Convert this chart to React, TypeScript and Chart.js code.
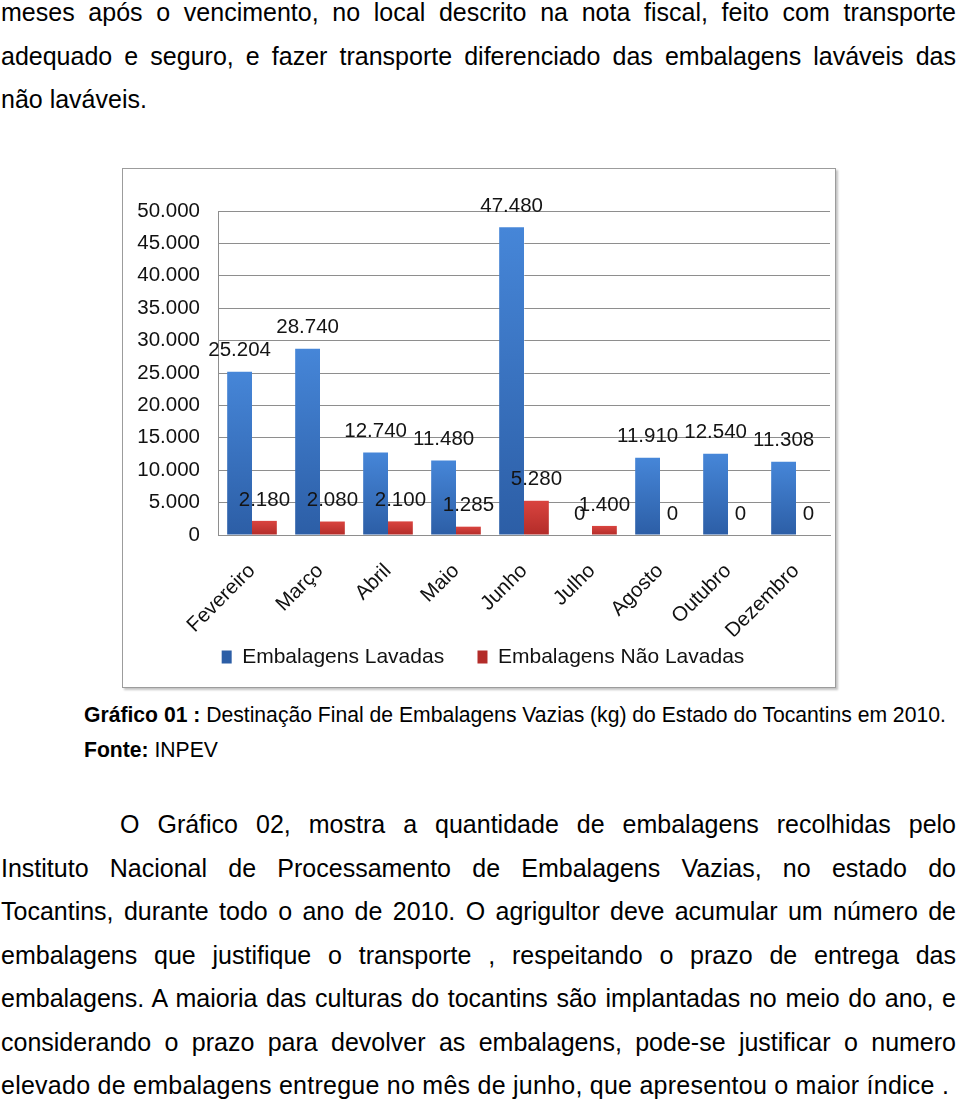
import React, { useEffect, useRef } from "react";
import { Chart, registerables } from "chart.js";

Chart.register(...registerables);

const months = ["Fevereiro", "Março", "Abril", "Maio", "Junho", "Julho", "Agosto", "Outubro", "Dezembro"];
const lavadas = [25204, 28740, 12740, 11480, 47480, 0, 11910, 12540, 11308];
const naoLavadas = [2180, 2080, 2100, 1285, 5280, 1400, 0, 0, 0];
const seriesNames = ["Embalagens Lavadas", "Embalagens Não Lavadas"];
const yMin = 0;
const yMax = 50000;
const yStep = 5000;

const topLines = [
  "meses após o vencimento, no local descrito na nota fiscal, feito com transporte",
  "adequado e seguro, e fazer transporte diferenciado das embalagens laváveis das",
  "não laváveis.",
];
const paraLines = [
  "O Gráfico 02, mostra a quantidade de embalagens recolhidas pelo",
  "Instituto Nacional de Processamento de Embalagens Vazias, no estado do",
  "Tocantins, durante todo o ano de 2010. O agrigultor deve acumular um número de",
  "embalagens que justifique o transporte , respeitando o prazo de entrega das",
  "embalagens. A maioria das culturas do tocantins são implantadas no meio do ano, e",
  "considerando o prazo para devolver as embalagens, pode-se justificar o numero",
  "elevado de embalagens entregue no mês de junho, que apresentou o maior índice .",
];
const captionBold = "Gráfico 01 :";
const captionText = " Destinação Final de Embalagens Vazias (kg) do Estado do Tocantins em 2010.";
const sourceBold = "Fonte:";
const sourceText = " INPEV";

const FONT = '"Liberation Sans", Arial, Helvetica, sans-serif';

const fmt = (v: number) => String(v).replace(/\B(?=(\d{3})+(?!\d))/g, ".");

function barGradient(top: string, bottom: string, fallback: string) {
  return (c: any) => {
    const chart = c.chart;
    const y = chart.scales && chart.scales.y;
    if (!chart.chartArea || !y || c.raw == null || c.type !== "data") return fallback;
    const t = y.getPixelForValue(c.raw);
    const b = y.getPixelForValue(0);
    if (!isFinite(t) || !isFinite(b) || b - t < 1) return fallback;
    const g = chart.ctx.createLinearGradient(0, t, 0, b);
    g.addColorStop(0, top);
    g.addColorStop(1, bottom);
    return g;
  };
}

const valueLabels = {
  id: "valueLabels",
  afterDatasetsDraw(chart: any) {
    const ctx = chart.ctx;
    ctx.save();
    ctx.font = `20.5px ${FONT}`;
    ctx.fillStyle = "#141414";
    ctx.textAlign = "center";
    ctx.textBaseline = "middle";
    chart.data.datasets.forEach((ds: any, i: number) => {
      const meta = chart.getDatasetMeta(i);
      meta.data.forEach((el: any, j: number) => {
        ctx.fillText(fmt(ds.data[j]), el.x, el.y - 21);
      });
    });
    ctx.restore();
  },
};

function TextLine(props: {
  baseline: number;
  left: number;
  width: number;
  size: number;
  justify: boolean;
  spacing?: number;
  children: React.ReactNode;
}) {
  const { baseline, left, width, size, justify, spacing, children } = props;
  const lh = Math.round(size * 1.2);
  const top = baseline - ((lh - 1.117 * size) / 2 + 0.905 * size);
  return (
    <div
      style={{
        position: "absolute",
        left,
        top,
        width,
        fontSize: size,
        lineHeight: `${lh}px`,
        height: lh,
        letterSpacing: spacing ? `${spacing}px` : undefined,
        textAlign: justify ? "justify" : "left",
        textAlignLast: justify ? "justify" : "left",
        whiteSpace: justify ? "normal" : "nowrap",
        color: "#000",
      }}
    >
      {children}
    </div>
  );
}

function BarChart() {
  const ref = useRef<HTMLCanvasElement | null>(null);
  useEffect(() => {
    if (!ref.current) return;
    const grid = "#8e8e8e";
    const chart = new Chart(ref.current, {
      type: "bar",
      data: {
        labels: months,
        datasets: [
          {
            label: seriesNames[0],
            data: lavadas,
            backgroundColor: barGradient("#4686d8", "#2c5ea6", "#3a72c2"),
            borderWidth: 0,
            barPercentage: 1,
            categoryPercentage: 0.73,
          },
          {
            label: seriesNames[1],
            data: naoLavadas,
            backgroundColor: barGradient("#d9443f", "#b32c29", "#c8393a"),
            borderWidth: 0,
            barPercentage: 1,
            categoryPercentage: 0.73,
          },
        ],
      },
      options: {
        animation: false,
        responsive: false,
        maintainAspectRatio: false,
        layout: { padding: { top: 42, right: 5, bottom: 9.5, left: 13 } },
        plugins: {
          tooltip: { enabled: false },
          legend: {
            position: "bottom",
            labels: {
              boxWidth: 10,
              boxHeight: 13,
              padding: 10,
              color: "#111",
              font: { family: FONT, size: 21 },
              generateLabels: (ch: any) => {
                const items = Chart.defaults.plugins.legend.labels.generateLabels(ch);
                if (items.length > 0) items[0].text = items[0].text + "    ";
                return items;
              },
            },
          },
        },
        scales: {
          x: {
            grid: { display: false },
            border: { display: true, color: grid },
            ticks: {
              autoSkip: false,
              maxRotation: 45,
              minRotation: 45,
              padding: 16,
              color: "#111",
              font: { family: FONT, size: 20.5 },
            },
            afterFit: (s: any) => {
              s.height = 101.5;
            },
          },
          y: {
            min: yMin,
            max: yMax,
            grid: { color: grid, lineWidth: 1, drawTicks: false },
            border: { display: true, color: grid },
            ticks: {
              stepSize: yStep,
              padding: 18,
              color: "#111",
              font: { family: FONT, size: 20.5 },
              callback: (v: any) => fmt(Number(v)),
            },
            afterFit: (s: any) => {
              s.width = 82;
            },
          },
        },
      },
      plugins: [valueLabels],
    });
    return () => chart.destroy();
  }, []);
  return <canvas ref={ref} width={712} height={518} style={{ display: "block", width: 712, height: 518 }} />;
}

export default function App() {
  const bodyW = 955;
  return (
    <div
      style={{
        position: "absolute",
        left: 0,
        top: 0,
        width: 960,
        height: 1102,
        overflow: "hidden",
        background: "#fff",
        fontFamily: FONT,
      }}
    >
      <TextLine baseline={21} left={1} width={bodyW} size={25} justify>
        {topLines[0]}
      </TextLine>
      <TextLine baseline={64.5} left={1} width={bodyW} size={25} justify>
        {topLines[1]}
      </TextLine>
      <TextLine baseline={108} left={1} width={bodyW} size={25} justify={false}>
        {topLines[2]}
      </TextLine>

      <div
        style={{
          position: "absolute",
          left: 122,
          top: 168,
          width: 712,
          height: 518,
          border: "1px solid #9c9c9c",
          boxShadow: "2px 2px 2px #c4c4c4",
          background: "#fff",
        }}
      >
        <BarChart />
      </div>

      <TextLine baseline={721.5} left={84} width={870} size={21.15} justify={false}>
        <b>{captionBold}</b>
        {captionText}
      </TextLine>
      <TextLine baseline={756.5} left={84} width={870} size={21.15} justify={false}>
        <b>{sourceBold}</b>
        {sourceText}
      </TextLine>

      {paraLines.map((t, i) => (
        <TextLine
          key={i}
          baseline={833 + i * 43.5}
          left={i === 0 ? 120 : 1}
          width={i === 0 ? bodyW - 119 : bodyW}
          size={25}
          justify={i !== paraLines.length - 1}
          spacing={i === paraLines.length - 1 ? 0.25 : undefined}
        >
          {t}
        </TextLine>
      ))}
    </div>
  );
}
